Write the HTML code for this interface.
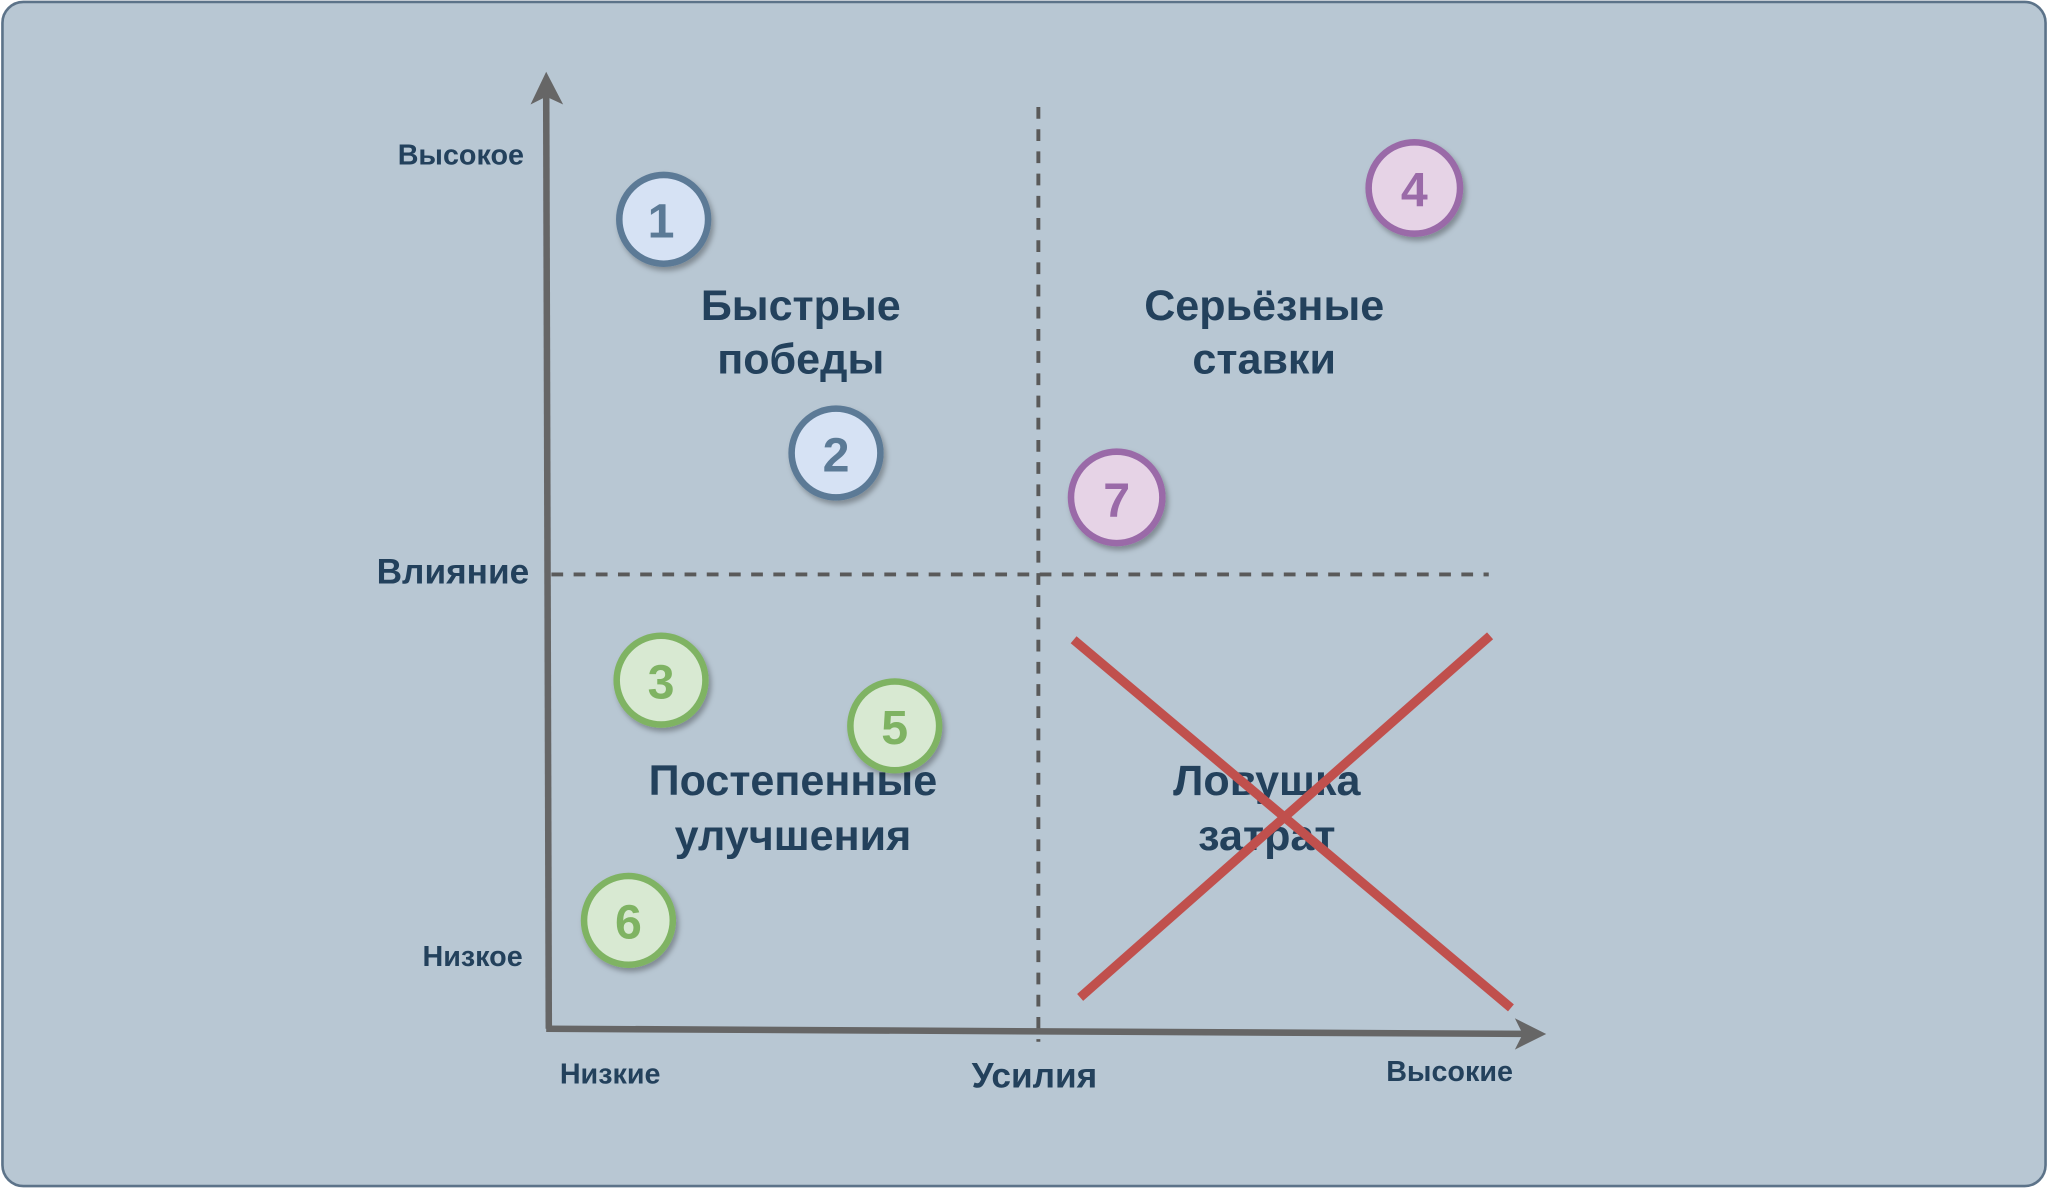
<!DOCTYPE html>
<html><head><meta charset="utf-8"><style>
html,body{margin:0;padding:0;background:#fff;}
svg{display:block;}
text{font-family:"Liberation Sans",Arial,sans-serif;font-weight:bold;fill:#23415c;}
</style></head><body>
<svg width="2048" height="1188" viewBox="0 0 1568 910" xmlns="http://www.w3.org/2000/svg">
<defs>
<filter id="sh" x="-30%" y="-30%" width="160%" height="160%"><feDropShadow dx="2" dy="3" stdDeviation="2" flood-color="#000" flood-opacity="0.3"/></filter>
</defs>
<rect x="1.5" y="1.5" width="1565" height="907" rx="16" fill="#b8c7d3" stroke="#5c7389" stroke-width="2"/>
<line x1="795" y1="82" x2="795" y2="798" stroke="#5a5a5a" stroke-width="3" stroke-dasharray="9,8"/>
<line x1="422" y1="440" x2="1140" y2="440" stroke="#5a5a5a" stroke-width="3" stroke-dasharray="9,8"/>
<line x1="420" y1="788" x2="418" y2="68" stroke="#666" stroke-width="5"/>
<polygon points="418,55 406,80 418,74 431,80" fill="#666"/>
<line x1="418" y1="788" x2="1172" y2="792" stroke="#666" stroke-width="5"/>
<polygon points="1184,792 1160,780 1166,792 1160,804" fill="#666"/>
<text x="401" y="126" font-size="22" text-anchor="end">Высокое</text>
<text x="405" y="447" font-size="27" text-anchor="end">Влияние</text>
<text x="400" y="740" font-size="22" text-anchor="end">Низкое</text>
<text x="467" y="830" font-size="22" text-anchor="middle">Низкие</text>
<text x="792" y="833" font-size="27" text-anchor="middle">Усилия</text>
<text x="1110" y="828" font-size="22" text-anchor="middle">Высокие</text>
<g font-size="33" text-anchor="middle">
<text x="613" y="245">Быстрые</text><text x="613" y="286">победы</text>
<text x="968" y="245">Серьёзные</text><text x="968" y="286">ставки</text>
<text x="607" y="609">Постепенные</text><text x="607" y="651">улучшения</text>
<text x="970" y="609">Ловушка</text><text x="970" y="651">затрат</text>
</g>
<line x1="822" y1="490" x2="1157" y2="772" stroke="#c0504d" stroke-width="7"/>
<line x1="1141" y1="487" x2="827" y2="764" stroke="#c0504d" stroke-width="7"/>
<g filter="url(#sh)" stroke-width="5">
<circle cx="508" cy="168" r="34" fill="#d6e2f4" stroke="#5b7a96"/>
<circle cx="640" cy="347" r="34" fill="#d6e2f4" stroke="#5b7a96"/>
<circle cx="1083" cy="144" r="35" fill="#e6d3e6" stroke="#9a6aa8"/>
<circle cx="855" cy="381" r="35" fill="#e6d3e6" stroke="#9a6aa8"/>
<circle cx="506" cy="521" r="34" fill="#d8e9d2" stroke="#7fb363"/>
<circle cx="685" cy="556" r="34" fill="#d8e9d2" stroke="#7fb363"/>
<circle cx="481" cy="705" r="34" fill="#d8e9d2" stroke="#7fb363"/>
</g>
<g font-size="37" text-anchor="middle">
<text x="506" y="182" style="fill:#5b7a96">1</text>
<text x="640" y="361" style="fill:#5b7a96">2</text>
<text x="1083" y="158" style="fill:#9a6aa8">4</text>
<text x="855" y="396" style="fill:#9a6aa8">7</text>
<text x="506" y="535" style="fill:#7fb363">3</text>
<text x="685" y="570" style="fill:#7fb363">5</text>
<text x="481" y="719" style="fill:#7fb363">6</text>
</g>
</svg>
</body></html>
